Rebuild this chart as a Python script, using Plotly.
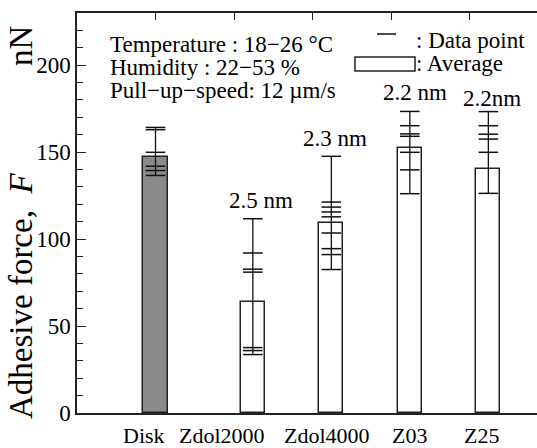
import plotly.graph_objects as go

# ---------------- data ----------------
categories = ["Disk", "Zdol2000", "Zdol4000", "Z03", "Z25"]
bar_pos = [1.0, 2.24, 3.24, 4.24, 5.24]
label_pos = [0.85, 1.85, 3.19, 4.24, 5.15]
averages = [147, 64, 109.5, 152.5, 140.5]
bar_colors = ["#8a8a8a", "white", "white", "white", "white"]
thickness = ["", "2.5 nm", "2.3 nm", "2.2 nm", "2.2nm"]
points_disk = [164.2, 162.9, 149.9, 141.9, 139.4, 136.6]
points_zdol2000 = [111.7, 92.0, 82.7, 81.0, 37.6, 35.9, 33.6]
points_zdol4000 = [147.6, 121.3, 118.4, 115.6, 112.8, 103.5, 94.5, 91.1, 82.5]
points_z03 = [173.4, 165.2, 160.5, 159.1, 149.9, 139.8, 126.1]
points_z25 = [173.3, 165.2, 160.3, 157.5, 149.9, 126.3]
all_points = [points_disk, points_zdol2000, points_zdol4000, points_z03, points_z25]
y_ticks = [0, 50, 100, 150, 200]
top_ticks = [1, 2, 3, 4, 5]

FONT = "Liberation Serif, Times New Roman, DejaVu Serif, serif"
W, H = 537, 448
L, R, T, B = 77, 0, 13, 35
PW, PH = W - L - R, H - T - B


def px(x):
    return (x - L) / PW


def py(y):
    return (H - B - y) / PH


fig = go.Figure()

fig.add_trace(go.Bar(
    x=bar_pos, y=averages, width=0.306,
    marker=dict(color=bar_colors, line=dict(color="#222222", width=1.5)),
    showlegend=False, hoverinfo="skip"))

for xp, pts in zip(bar_pos, all_points):
    fig.add_trace(go.Scatter(
        x=[xp, xp], y=[min(pts), max(pts)], mode="lines",
        line=dict(color="#111111", width=1.3), showlegend=False, hoverinfo="skip"))
    fig.add_trace(go.Scatter(
        x=[xp] * len(pts), y=pts, mode="markers",
        marker=dict(symbol="line-ew", size=14, line=dict(color="#111111", width=1.5)),
        showlegend=False, hoverinfo="skip"))

# invisible trace on top axis so it renders
fig.add_trace(go.Scatter(x=[1], y=[0], xaxis="x2", mode="markers",
                         marker=dict(opacity=0), showlegend=False, hoverinfo="skip"))

xr = [0, PW / 78.5]
fig.update_layout(
    width=W, height=H,
    margin=dict(l=L, r=R, t=T, b=B, pad=0),
    plot_bgcolor="white", paper_bgcolor="white",
    font=dict(family=FONT, size=23, color="black"),
    bargap=0,
    xaxis=dict(range=xr, showline=True, linecolor="#222222", linewidth=1.5,
               showticklabels=False, ticks="", showgrid=False, zeroline=False),
    xaxis2=dict(range=xr, overlaying="x", side="top", showline=True,
                linecolor="#222222", linewidth=1.5, tickvals=top_ticks,
                ticks="inside", ticklen=7, tickwidth=1.3, tickcolor="#222222",
                showticklabels=False, showgrid=False, zeroline=False),
    yaxis=dict(range=[0, 230], showline=True, linecolor="#222222", linewidth=1.5,
               tickvals=y_ticks, ticks="inside", ticklen=9, tickwidth=1.3,
               tickcolor="#222222", tickfont=dict(family=FONT, size=23),
               minor=dict(dtick=10, ticks="inside", ticklen=6, tickwidth=1.3,
                          tickcolor="#222222"),
               showgrid=False, zeroline=False),
)

ann = []
# category labels
for c, lp in zip(categories, label_pos):
    ann.append(dict(x=lp, y=py(435.5), xref="x", yref="paper", text=c,
                    showarrow=False, xanchor="center", yanchor="middle",
                    font=dict(size=22)))
# thickness labels
thick_xy = [None, (260.5, 200), (334.5, 139), (415, 92), (491.5, 98)]
for t, xy in zip(thickness, thick_xy):
    if xy is None:
        continue
    ann.append(dict(x=px(xy[0]), y=py(xy[1]), xref="paper", yref="paper", text=t,
                    showarrow=False, xanchor="center", yanchor="middle"))
# conditions
cond = ["Temperature : 18\u221226 \u00b0C", "Humidity : 22\u221253 %",
        "Pull\u2212up\u2212speed: 12 \u00b5m/s"]
for t, yy in zip(cond, [44, 67, 90]):
    ann.append(dict(x=px(108), y=py(yy), xref="paper", yref="paper", text=t,
                    showarrow=False, xanchor="left", yanchor="middle"))
# legend
ann.append(dict(x=px(414), y=py(41), xref="paper", yref="paper", text=": Data point",
                showarrow=False, xanchor="left", yanchor="middle"))
ann.append(dict(x=px(414), y=py(64), xref="paper", yref="paper", text=": Average",
                showarrow=False, xanchor="left", yanchor="middle"))
# axis title
ann.append(dict(x=px(21), y=py(296), xref="paper", yref="paper",
                text="Adhesive force,  <i>F</i>", textangle=-90,
                showarrow=False, xanchor="center", yanchor="middle",
                font=dict(size=33)))
ann.append(dict(x=px(21), y=py(46), xref="paper", yref="paper", text="nN",
                textangle=-90, showarrow=False, xanchor="center", yanchor="middle",
                font=dict(size=33)))
fig.update_layout(annotations=ann)

fig.add_shape(type="line", xref="paper", yref="paper",
              x0=px(377), x1=px(396), y0=py(34), y1=py(34),
              line=dict(color="#111111", width=1.5))
fig.add_shape(type="rect", xref="paper", yref="paper",
              x0=px(355), x1=px(415), y0=py(57), y1=py(71),
              line=dict(color="#222222", width=1.5), fillcolor="white")

fig.write_html("out.html")
